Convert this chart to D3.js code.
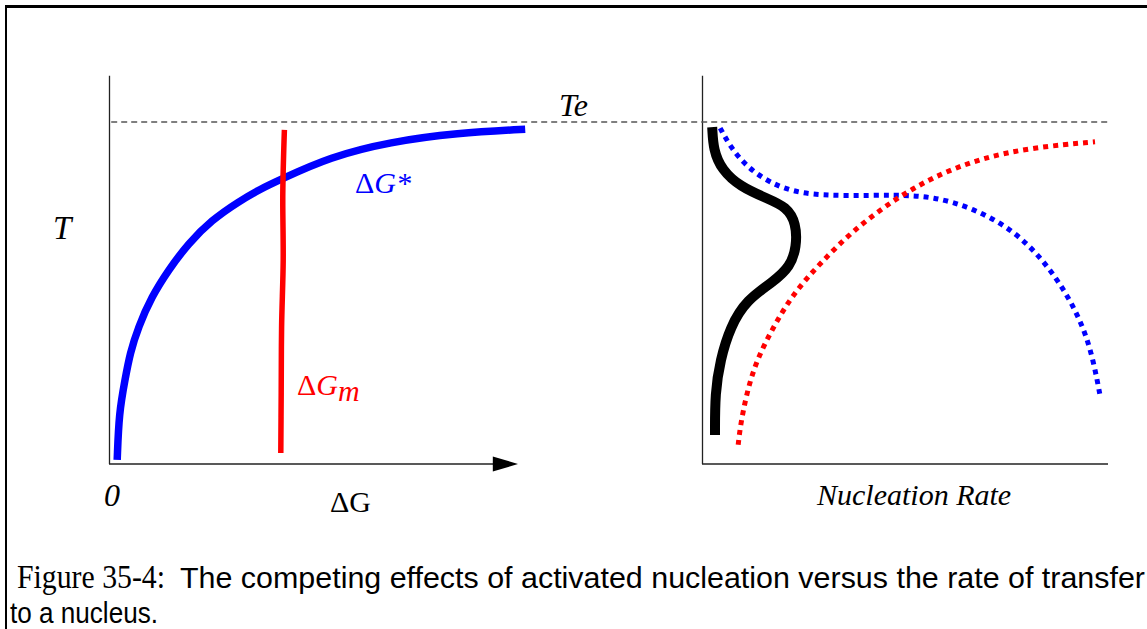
<!DOCTYPE html>
<html>
<head>
<meta charset="utf-8">
<script src="https://cdn.jsdelivr.net/npm/d3@7"></script>
<style>
  body { margin: 0; background: #fff; }
  svg { display: block; }
</style>
</head>
<body>
<svg id="chart" width="1147" height="629"></svg>
<script>
// ---- data: x in arbitrary units (0..100), T in percent of Te (Te = 100) ----
var teValue = 100;

// left panel: free energy vs temperature
var gStarPts = [[1.8, 1.2], [2.25, 15], [3.75, 24.6], [5, 32.4], [7.1, 40.1], [10.4, 48.9],
  [14.6, 56.7], [19.6, 64.5], [25.4, 71.3], [32.1, 76.7], [37.9, 80.6], [42.3, 83.0],
  [55, 89.8], [70, 94.2], [86.8, 96.8], [103.8, 97.9]];
var gMobilityPts = [[43.6, 97.7], [43.2, 79.2], [43.3, 59.6], [42.9, 40.1], [42.8, 20.8], [42.7, 3.2]];

// right panel: nucleation rate vs temperature
var ratePts = [[2.3, 98.5], [2.6, 91.8], [4.7, 86.0], [9.3, 81.1], [15.9, 77.7], [20.9, 75.2],
  [23.3, 70.4], [23.4, 63.5], [21.8, 57.7], [17.6, 53.3], [10.9, 48.0], [6.8, 40.1],
  [4.3, 30.4], [3.0, 20.7], [3.0, 8.5]];
var transferPts = [[8.8, 5.6], [9.3, 10.9], [10.9, 20.7], [13.4, 30.4], [17.6, 40.1], [22.6, 49.9],
  [29.3, 58.7], [37.6, 68.4], [47.6, 77.2], [57.6, 84.0], [69.3, 89.4], [82.6, 92.6], [98, 94.2]];
var activatedPts = [[4.3, 98.2], [6.8, 92.8], [10.9, 86.9], [16.8, 82.1], [24.3, 78.9], [35.9, 78.4],
  [48.4, 78.7], [57.6, 78.2], [67.6, 74.8], [77.6, 68.4], [85.1, 59.6], [90.9, 49.9],
  [95.1, 40.1], [97.6, 30.4], [99.4, 19.2]];

var captionSerif = 'Figure 35-4:';
var captionLine1 = 'The competing effects of activated nucleation versus the rate of transfer';
var captionLine2 = 'to a nucleus.';

var svg = d3.select('#chart');

var leftX = d3.scaleLinear().domain([0, 100]).range([110, 510]);
var rightX = d3.scaleLinear().domain([0, 100]).range([703, 1103]);
var tScale = d3.scaleLinear().domain([0, 100]).range([464, 122]);

var serif = "'Liberation Serif', 'Times New Roman', serif";
var sans = "'Liberation Sans', Arial, sans-serif";

// frame
svg.append('line').attr('x1', 5).attr('x2', 1147).attr('y1', 6.5).attr('y2', 6.5)
  .attr('stroke', '#000').attr('stroke-width', 3);
svg.append('line').attr('x1', 6).attr('x2', 6).attr('y1', 5).attr('y2', 629)
  .attr('stroke', '#000').attr('stroke-width', 2);

// axes
var axisTop = 113.5;
var axisColor = '#222';
svg.append('line')
  .attr('x1', leftX(0) - 0.5).attr('x2', leftX(0) - 0.5)
  .attr('y1', tScale(axisTop)).attr('y2', tScale(0))
  .attr('stroke', axisColor).attr('stroke-width', 1.3);
svg.append('line')
  .attr('x1', leftX(0) - 1).attr('x2', leftX(96))
  .attr('y1', tScale(0)).attr('y2', tScale(0))
  .attr('stroke', axisColor).attr('stroke-width', 1.3);
svg.append('path')
  .attr('d', 'M' + leftX(95.7) + ',' + (tScale(0) - 7.5) +
    'L' + leftX(102) + ',' + tScale(0) +
    'L' + leftX(95.7) + ',' + (tScale(0) + 7.5) + 'Z')
  .attr('fill', '#000');

svg.append('line')
  .attr('x1', rightX(0) - 0.5).attr('x2', rightX(0) - 0.5)
  .attr('y1', tScale(axisTop)).attr('y2', tScale(0))
  .attr('stroke', axisColor).attr('stroke-width', 1.3);
svg.append('line')
  .attr('x1', rightX(0) - 1).attr('x2', rightX(101.25))
  .attr('y1', tScale(0)).attr('y2', tScale(0))
  .attr('stroke', axisColor).attr('stroke-width', 1.3);

// Te dashed line across both panels
svg.append('line')
  .attr('x1', leftX(0.3)).attr('x2', rightX(101.75))
  .attr('y1', tScale(teValue)).attr('y2', tScale(teValue))
  .attr('stroke', '#555').attr('stroke-width', 1.3)
  .attr('stroke-dasharray', '6,4');

function curve(xs, kind) {
  return d3.line()
    .x(d => xs(d[0]))
    .y(d => tScale(d[1]))
    .curve(kind || d3.curveBasis);
}

// left panel curves
svg.append('path').datum(gStarPts)
  .attr('d', curve(leftX))
  .attr('fill', 'none').attr('stroke', '#0000ff').attr('stroke-width', 7.5);
svg.append('path').datum(gMobilityPts)
  .attr('d', curve(leftX, d3.curveCatmullRom))
  .attr('fill', 'none').attr('stroke', '#ff0000').attr('stroke-width', 5.5);

// right panel curves
svg.append('path').datum(activatedPts)
  .attr('d', curve(rightX))
  .attr('fill', 'none').attr('stroke', '#0000ff').attr('stroke-width', 5)
  .attr('stroke-dasharray', '5,5');
svg.append('path').datum(transferPts)
  .attr('d', curve(rightX))
  .attr('fill', 'none').attr('stroke', '#ff0000').attr('stroke-width', 5)
  .attr('stroke-dasharray', '5,5');
svg.append('path').datum(ratePts)
  .attr('d', curve(rightX))
  .attr('fill', 'none').attr('stroke', '#000').attr('stroke-width', 10);

// labels
function label(x, y, size, color) {
  return svg.append('text').attr('x', x).attr('y', y)
    .style('font-family', serif).style('font-size', size + 'px').attr('fill', color);
}

label(559, 116, 32, '#000').style('font-style', 'italic').text('Te');
label(53, 239, 33, '#000').style('font-style', 'italic').text('T');
label(104, 506, 32, '#000').style('font-style', 'italic').text('0');

var dg = label(330, 512, 30, '#000');
dg.append('tspan').text('\u0394');
dg.append('tspan').text('G');

var dgs = label(355, 193, 30, '#0000ff');
dgs.append('tspan').text('\u0394');
dgs.append('tspan').style('font-style', 'italic').text('G*');

var dgm = label(297, 395, 30, '#ff0000');
dgm.append('tspan').text('\u0394');
dgm.append('tspan').style('font-style', 'italic').text('G');
dgm.append('tspan').style('font-style', 'italic').attr('dy', 6).text('m');

label(817, 505, 30, '#000').style('font-style', 'italic').text('Nucleation Rate');

// caption
svg.append('text').attr('x', 17).attr('y', 588)
  .style('font-family', serif).style('font-size', '33px').attr('fill', '#000')
  .attr('textLength', 148).attr('lengthAdjust', 'spacingAndGlyphs')
  .text(captionSerif);
svg.append('text').attr('x', 180).attr('y', 588)
  .style('font-family', sans).style('font-size', '29px').attr('fill', '#000')
  .attr('textLength', 965).attr('lengthAdjust', 'spacingAndGlyphs')
  .text(captionLine1);
svg.append('text').attr('x', 10).attr('y', 623)
  .style('font-family', sans).style('font-size', '29px').attr('fill', '#000')
  .attr('textLength', 148).attr('lengthAdjust', 'spacingAndGlyphs')
  .text(captionLine2);
</script>
</body>
</html>
